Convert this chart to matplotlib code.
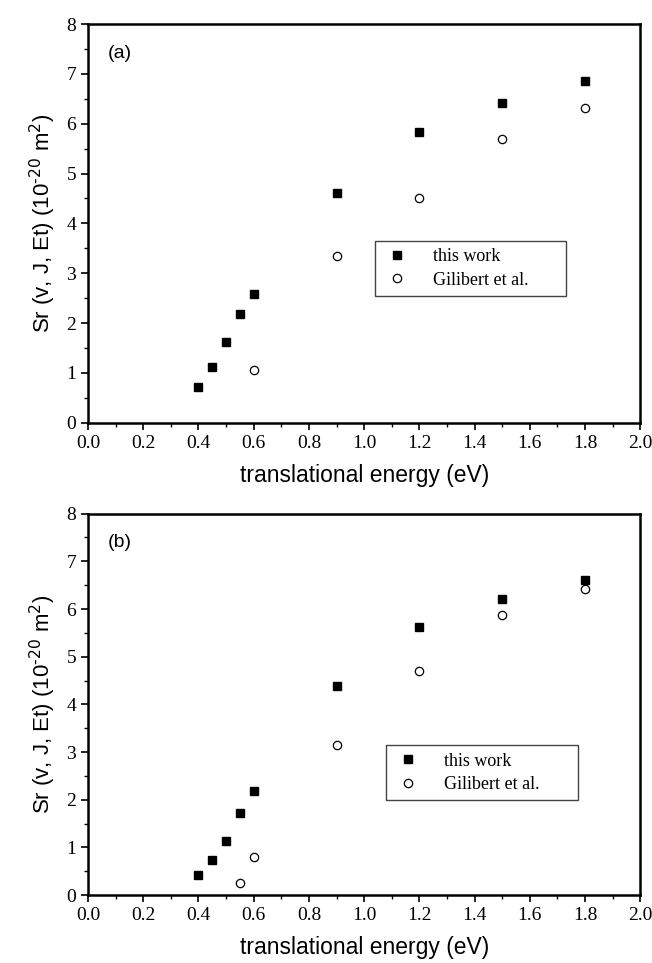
import matplotlib
matplotlib.use("Agg")
import matplotlib.pyplot as plt
from matplotlib.ticker import MultipleLocator

# Panel (a)
a_this_x = [0.40, 0.45, 0.50, 0.55, 0.60, 0.90, 1.20, 1.50, 1.80]
a_this_y = [0.71, 1.11, 1.62, 2.18, 2.58, 4.61, 5.83, 6.42, 6.86]
a_gil_x = [0.60, 0.90, 1.20, 1.50, 1.80]
a_gil_y = [1.06, 3.35, 4.51, 5.69, 6.31]

# Panel (b)
b_this_x = [0.40, 0.45, 0.50, 0.55, 0.60, 0.90, 1.20, 1.50, 1.80]
b_this_y = [0.43, 0.73, 1.14, 1.73, 2.19, 4.39, 5.63, 6.21, 6.61]
b_gil_x = [0.55, 0.60, 0.90, 1.20, 1.50, 1.80]
b_gil_y = [0.245, 0.79, 3.15, 4.70, 5.88, 6.41]

series_labels = ["this work", "Gilibert et al."]
panel_labels = ["(a)", "(b)"]
xlabel = "translational energy (eV)"
ylabel = r"Sr (v, J, Et) (10$^{\text{-}20}$ m$^{2}$)"

fig = plt.figure(figsize=(6.52, 9.63), dpi=100)
ax_a = fig.add_axes([0.135, 0.561, 0.847, 0.414])
ax_b = fig.add_axes([0.135, 0.0706, 0.847, 0.396])

serif = "Liberation Serif"
sans = "Liberation Sans"
plt.rcParams["mathtext.fontset"] = "custom"
plt.rcParams["mathtext.rm"] = sans

panels = [
    (ax_a, a_this_x, a_this_y, a_gil_x, a_gil_y, panel_labels[0], (0.52, 0.318, 0.345, 0.128), 9),
    (ax_b, b_this_x, b_this_y, b_gil_x, b_gil_y, panel_labels[1], (0.54, 0.249, 0.348, 0.129), 9),
]

for ax, tx, ty, gx, gy, plab, lbox, lpad in panels:
    ax.plot(tx, ty, linestyle="none", marker="s", markersize=6,
            color="black", label=series_labels[0])
    ax.plot(gx, gy, linestyle="none", marker="o", markersize=6,
            markerfacecolor="white", markeredgecolor="black",
            markeredgewidth=0.9, label=series_labels[1])
    ax.set_xlim(0, 2.0)
    ax.set_ylim(0, 8)
    ax.xaxis.set_major_locator(MultipleLocator(0.2))
    ax.xaxis.set_minor_locator(MultipleLocator(0.1))
    ax.yaxis.set_major_locator(MultipleLocator(1))
    ax.yaxis.set_minor_locator(MultipleLocator(0.5))
    ax.tick_params(which="major", direction="out", length=5, width=1.2,
                   top=False, right=False)
    ax.tick_params(which="minor", direction="out", length=3, width=1.0,
                   top=False, right=False)
    ax.set_xticklabels([f"{v:.1f}" for v in ax.get_xticks()])
    ax.set_yticklabels([f"{int(v)}" for v in ax.get_yticks()])
    for lab in ax.get_xticklabels() + ax.get_yticklabels():
        lab.set_fontfamily(serif)
        lab.set_fontsize(14)
    for sp in ax.spines.values():
        sp.set_linewidth(1.8)
    ax.set_xlabel(xlabel, fontsize=16.5, fontfamily=sans, labelpad=lpad)
    ax.set_ylabel(ylabel, fontsize=16, fontfamily=sans, labelpad=6)
    ax.text(0.035, 0.925, plab, transform=ax.transAxes, fontsize=14,
            fontfamily=sans, va="center", ha="left")
    leg = ax.legend(loc="lower left", bbox_to_anchor=lbox, mode="expand",
                    fancybox=False, framealpha=1, edgecolor="#444444",
                    prop={"family": serif, "size": 13},
                    handletextpad=1.2, borderaxespad=0, handlelength=1.6,
                    labelspacing=0.35)
    leg.get_frame().set_linewidth(1.0)

fig.savefig("out.png", dpi=100)
